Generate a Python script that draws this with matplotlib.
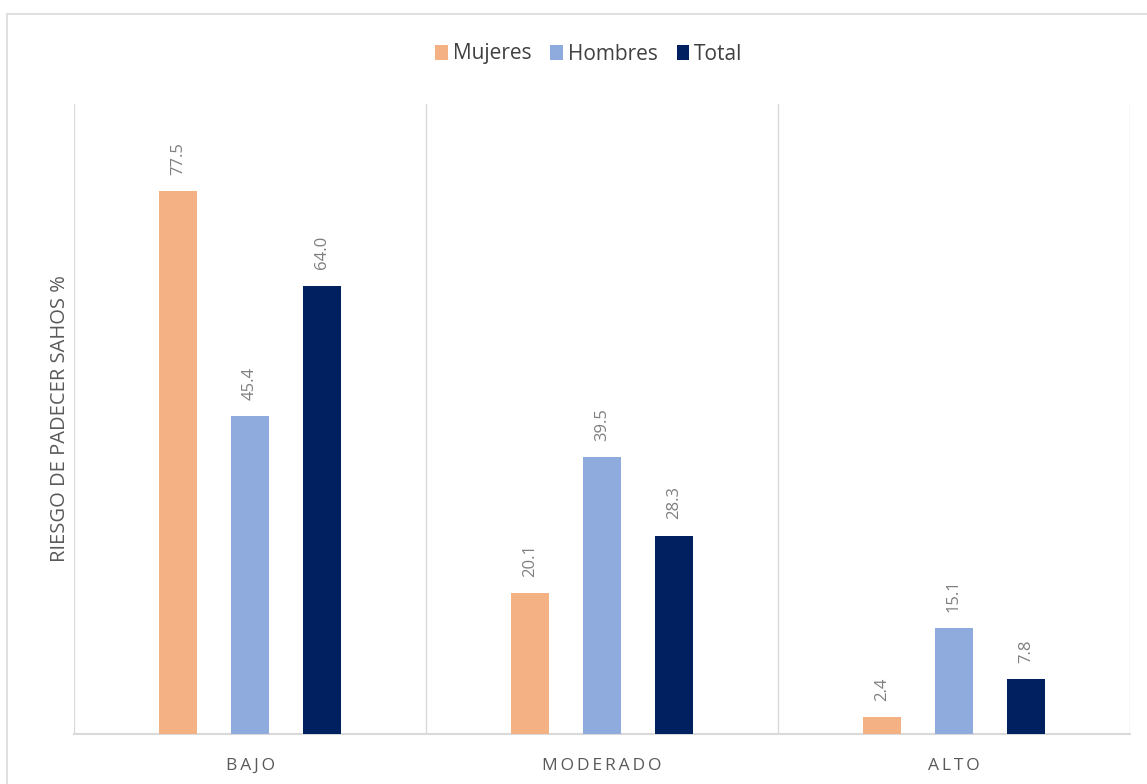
import numpy as np
import matplotlib.pyplot as plt
from matplotlib.patches import Rectangle

plt.rcParams['font.family'] = ['Open Sans', 'DejaVu Sans']

categories = ['BAJO', 'MODERADO', 'ALTO']
series = ['Mujeres', 'Hombres', 'Total']
mujeres = [77.5, 20.1, 2.4]
hombres = [45.4, 39.5, 15.1]
total = [64.0, 28.3, 7.8]
colors = ['#F4B183', '#8FAADC', '#002060']

fig = plt.figure(figsize=(11.47, 7.84), dpi=100)
ax = fig.add_axes([74 / 1147, 50 / 784, (1130 - 74) / 1147, (734 - 104) / 784])

# outer chart border
fig.patches.append(Rectangle((7 / 1147, -0.01), 1.02, (784 - 14) / 784 + 0.01,
                             transform=fig.transFigure, fill=False,
                             edgecolor='#d9d9d9', linewidth=1.2))

x = np.arange(len(categories))
width = 0.108
offset = 0.205
for i, (name, vals) in enumerate(zip(series, [mujeres, hombres, total])):
    bars = ax.bar(x + (i - 1) * offset, vals, width, color=colors[i], label=name, zorder=3)
    for b, v in zip(bars, vals):
        ax.annotate(f'{v:.1f}', (b.get_x() + b.get_width() / 2, b.get_height()),
                    xytext=(0, 12), textcoords='offset points', rotation=90,
                    ha='center', va='bottom', fontsize=12, color='#7f7f7f')

# category separators
for xv in [-0.5, 0.5, 1.5, 2.5]:
    ax.axvline(xv, color='#d9d9d9', linewidth=1, zorder=1)

ax.set_xlim(-0.5, 2.5)
ax.set_ylim(0, 90)
ax.set_yticks([])
ax.set_xticks(x)
ax.set_xticklabels(['\u2009'.join(c) for c in categories], fontsize=12.5, color='#595959')
ax.tick_params(axis='x', length=0, pad=17)
for s in ['top', 'right', 'left']:
    ax.spines[s].set_visible(False)
ax.spines['bottom'].set_color('#d9d9d9')
ax.spines['bottom'].set_linewidth(1.5)
ax.set_ylabel('RIESGO DE PADECER SAHOS %', fontsize=14.5, color='#595959', labelpad=3)

fig.legend(loc='center', bbox_to_anchor=(589 / 1147, 1 - 54 / 784), ncol=3, frameon=False,
           fontsize=15, handlelength=0.6, handleheight=0.75, handletextpad=0.25,
           columnspacing=0.9, labelcolor='#404040')

fig.savefig('out.png', dpi=100)
